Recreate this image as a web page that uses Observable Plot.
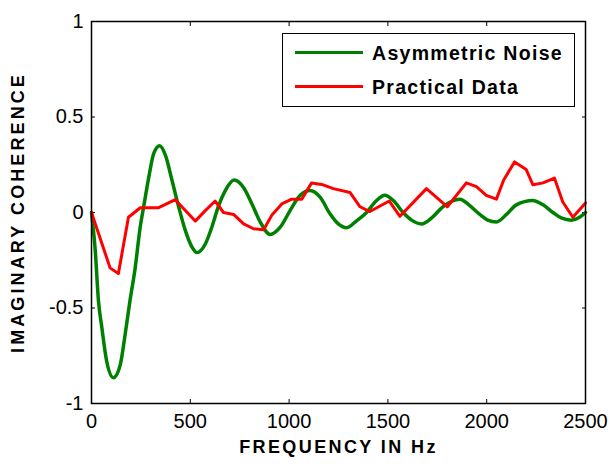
<!DOCTYPE html>
<html><head><meta charset="utf-8">
<script src="https://cdn.jsdelivr.net/npm/d3@7"></script>
<script src="https://cdn.jsdelivr.net/npm/@observablehq/plot@0.6"></script>
<style>
body{margin:0;background:#fff;font-family:"Liberation Sans",Arial,sans-serif;}
#wrap{position:relative;width:612px;height:464px;}
g[aria-label="text"] text{letter-spacing:2.4px;}
.legend{position:absolute;left:282px;top:33px;width:293px;height:74px;border:1.5px solid #000;background:#fff;box-sizing:border-box;}
.row{position:absolute;left:0;height:24px;}
.row .sw{position:absolute;left:12px;width:68px;height:3px;top:10px;}
.row .lb{position:absolute;left:89px;top:0;font-size:19.5px;font-weight:bold;letter-spacing:1.3px;line-height:24px;white-space:nowrap;color:#000;}
</style>
</head><body>
<div id="wrap"></div>
<script>
// Series: Asymmetric Noise (smooth)
const freqAN = [0,19,35,52,77,111,145,170,195,221,246,264,290,315,345,374,407,441,475,508,533,576,609,643,677,722,770,812,854,904,955,1005,1056,1106,1157,1207,1249,1291,1340,1392,1440,1485,1530,1577,1620,1670,1720,1778,1864,1910,1965,2005,2049,2100,2150,2233,2285,2335,2380,2428,2470,2500];
const valAN  = [0,-0.2,-0.46,-0.6,-0.78,-0.865,-0.8,-0.64,-0.46,-0.29,-0.08,0.03,0.185,0.31,0.35,0.30,0.17,0.03,-0.095,-0.18,-0.21,-0.165,-0.077,0.035,0.115,0.17,0.13,0.045,-0.05,-0.115,-0.077,0.01,0.09,0.115,0.08,-0.007,-0.06,-0.08,-0.045,0,0.06,0.09,0.06,0,-0.04,-0.06,-0.03,0.03,0.07,0.04,-0.01,-0.04,-0.05,-0.01,0.04,0.063,0.04,0,-0.03,-0.04,-0.025,0];
// Series: Practical Data (piecewise linear)
const freqPD = [0,94,136,187,247,340,424,525,576,626,668,719,770,820,871,912,963,1013,1064,1114,1165,1224,1308,1359,1409,1507,1561,1695,1801,1897,1948,1998,2049,2086,2141,2200,2234,2285,2343,2385,2436,2500];
const valPD  = [0,-0.29,-0.32,-0.025,0.025,0.025,0.067,-0.045,0.01,0.06,0,-0.01,-0.06,-0.085,-0.09,-0.015,0.045,0.07,0.07,0.155,0.147,0.125,0.105,0.03,0.005,0.06,-0.02,0.125,0.03,0.155,0.135,0.09,0.07,0.17,0.265,0.225,0.145,0.155,0.18,0.055,-0.025,0.05];

const seriesNames = ["Asymmetric Noise","Practical Data"];
const seriesColors = ["#008000","#ff0000"];
const xTicks = [0,500,1000,1500,2000,2500];
const yTicks = [-1,-0.5,0,0.5,1];
const xLabel = "FREQUENCY IN Hz";
const yLabel = "IMAGINARY COHERENCE";

const an = freqAN.map((f,i)=>({f, v: valAN[i]}));
const pd = freqPD.map((f,i)=>({f, v: valPD[i]}));

const chart = Plot.plot({
  width: 612, height: 464,
  marginLeft: 91, marginRight: 27, marginTop: 21, marginBottom: 61,
  style: {fontFamily: "Liberation Sans, Arial, sans-serif", background: "white", color: "black", overflow: "visible"},
  x: {domain: [0, 2500]},
  y: {domain: [-1, 1]},
  marks: [
    Plot.axisX(xTicks, {anchor: "bottom", tickSize: 0, tickPadding: 10, fontSize: 20, label: null, tickFormat: d => String(d)}),
    Plot.axisX(xTicks, {anchor: "bottom", tickSize: 4, inset: 4, text: null, label: null}),
    Plot.axisX(xTicks, {anchor: "top", tickSize: 4, inset: 4, text: null, label: null}),
    Plot.axisY(yTicks, {anchor: "left", tickSize: 0, tickPadding: 8, fontSize: 20, label: null, tickFormat: d => String(d)}),
    Plot.axisY(yTicks, {anchor: "left", tickSize: 4, inset: 4, text: null, label: null}),
    Plot.axisY(yTicks, {anchor: "right", tickSize: 4, inset: 4, text: null, label: null}),
    Plot.line(an, {x: "f", y: "v", stroke: seriesColors[0], strokeWidth: 3.5, curve: "monotone-x"}),
    Plot.line(pd, {x: "f", y: "v", stroke: seriesColors[1], strokeWidth: 3}),
    Plot.frame({stroke: "black", strokeWidth: 1.5}),
    Plot.text([xLabel], {frameAnchor: "bottom", dy: 49, fontSize: 18, fontWeight: "bold", fill: "black"}),
    Plot.text([yLabel], {frameAnchor: "left", dx: -73, rotate: -90, textAnchor: "middle", fontSize: 18, fontWeight: "bold", fill: "black"})
  ]
});
// slightly wider tracking on the vertical title, as in the reference
d3.select(chart).selectAll("text").filter(function(){ return this.textContent === yLabel; }).style("letter-spacing", "3.1px");
const wrap = document.getElementById("wrap");
wrap.appendChild(chart);

// Legend (inside the axes, top-right, as in the reference)
const lg = document.createElement("div");
lg.className = "legend";
seriesNames.forEach((name, i) => {
  const r = document.createElement("div");
  r.className = "row";
  r.style.top = (i === 0 ? 7 : 41) + "px";
  r.style.width = "100%";
  const sw = document.createElement("div");
  sw.className = "sw"; sw.style.background = seriesColors[i];
  const lb = document.createElement("div");
  lb.className = "lb"; lb.textContent = name;
  r.appendChild(sw); r.appendChild(lb);
  lg.appendChild(r);
});
wrap.appendChild(lg);
</script>
</body></html>
